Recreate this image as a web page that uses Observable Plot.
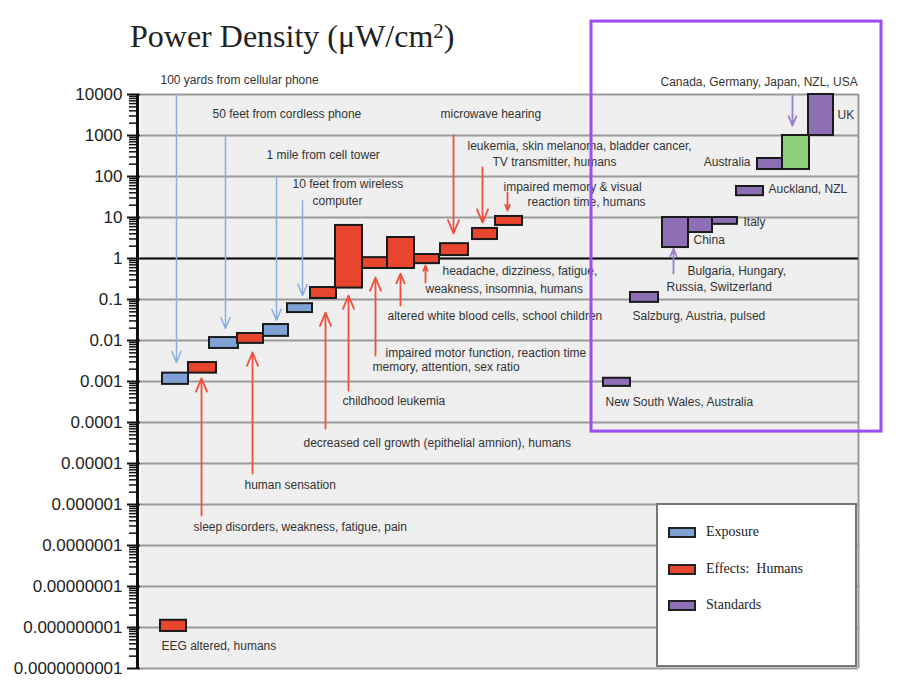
<!DOCTYPE html>
<html><head><meta charset="utf-8">
<script src="https://cdn.jsdelivr.net/npm/d3@7"></script>
<script src="https://cdn.jsdelivr.net/npm/@observablehq/plot@0.6"></script>
<style>
body{margin:0;background:#fff;}
#wrap{position:relative;width:900px;height:686px;overflow:hidden;}
#title{position:absolute;left:130px;top:20px;font-family:"Liberation Serif","DejaVu Serif",serif;font-size:32px;line-height:32px;color:#222;white-space:nowrap;}
#title .sup{position:relative;top:-0.45em;font-size:0.65em;}
#legend{position:absolute;left:656px;top:503px;width:197px;height:160px;background:#fff;border:2px solid #777;font-family:"Liberation Serif","DejaVu Serif",serif;font-size:14px;color:#222;}
#legend .item{position:absolute;left:10px;height:20px;display:flex;align-items:center;}
#legend .sw{width:24px;height:7px;border:2px solid #222;margin-right:10px;}
</style></head>
<body>
<div id="wrap">
  <div id="chart"></div>
  <div id="title">Power Density (μW/cm<span class="sup">2</span>)</div>
  <div id="legend"></div>
</div>
<script>
// ---- axis ----
const yTicks = [1e4, 1e3, 1e2, 1e1, 1, 1e-1, 1e-2, 1e-3, 1e-4, 1e-5, 1e-6, 1e-7, 1e-8, 1e-9, 1e-10];
const yTickLabels = ["10000", "1000", "100", "10", "1", "0.1", "0.01", "0.001", "0.0001", "0.00001", "0.000001", "0.0000001", "0.00000001", "0.000000001", "0.0000000001"];

// ---- bars: horizontal position (x1,x2), power density range (y1,y2) ----
const exposureBars = [
  {x1: 22, x2: 48, y1: 0.00085, y2: 0.0016},
  {x1: 69, x2: 98, y1: 0.0064, y2: 0.0118},
  {x1: 123, x2: 148, y1: 0.0126, y2: 0.0245},
  {x1: 147, x2: 172, y1: 0.048, y2: 0.079}
];
const effectBars = [
  {x1: 20, x2: 46, y1: 8e-10, y2: 1.5e-9},
  {x1: 48, x2: 76, y1: 0.0016, y2: 0.0029},
  {x1: 97, x2: 123, y1: 0.0085, y2: 0.0148},
  {x1: 170, x2: 196, y1: 0.106, y2: 0.196},
  {x1: 195, x2: 222, y1: 0.19, y2: 6.4},
  {x1: 222, x2: 247, y1: 0.57, y2: 1.05},
  {x1: 247, x2: 274, y1: 0.57, y2: 3.25},
  {x1: 274, x2: 299, y1: 0.75, y2: 1.25},
  {x1: 300, x2: 328, y1: 1.18, y2: 2.3},
  {x1: 332, x2: 357, y1: 2.9, y2: 5.4},
  {x1: 355, x2: 382, y1: 6.4, y2: 10.6}
];
const standardBars = [
  {x1: 463, x2: 490, y1: 0.00076, y2: 0.0012},
  {x1: 490, x2: 518, y1: 0.085, y2: 0.148},
  {x1: 522, x2: 548, y1: 1.85, y2: 10},
  {x1: 548, x2: 572, y1: 4.3, y2: 10},
  {x1: 572, x2: 597, y1: 6.8, y2: 10},
  {x1: 596, x2: 623, y1: 34, y2: 57},
  {x1: 617, x2: 642, y1: 148, y2: 275},
  {x1: 668, x2: 693, y1: 1000, y2: 10000}
];
const greenBars = [
  {x1: 642, x2: 669, y1: 148, y2: 1000}
];

// ---- arrows ----
const exposureArrows = [
  {x: 36, y1: 1e4, y2: 0.0029},
  {x: 85, y1: 1000, y2: 0.0196},
  {x: 136, y1: 95, y2: 0.031},
  {x: 162, y1: 26, y2: 0.125}
];
const effectArrows = [
  {x: 61, y1: 5.4e-7, y2: 0.0012},
  {x: 112, y1: 5.7e-6, y2: 0.0051},
  {x: 185, y1: 7.1e-5, y2: 0.048},
  {x: 208, y1: 6e-4, y2: 0.125},
  {x: 235, y1: 0.0043, y2: 0.344},
  {x: 260, y1: 0.0714, y2: 0.43},
  {x: 285, y1: 0.26, y2: 0.675},
  {x: 313, y1: 1000, y2: 4.07},
  {x: 342, y1: 166, y2: 7.5},
  {x: 367, y1: 41, y2: 14.8}
];
const standardArrows = [
  {x: 652, y1: 9450, y2: 1750},
  {x: 533, y1: 0.43, y2: 1.75}
];

// ---- labels (left-aligned) ----
const labels = [
  {x: 20, y: 21900, text: "100 yards from cellular phone"},
  {x: 72, y: 3250, text: "50 feet from cordless phone"},
  {x: 126, y: 325, text: "1 mile from cell tower"},
  {x: 152, y: 64, text: "10 feet from wireless"},
  {x: 172, y: 24.6, text: "computer"},
  {x: 300, y: 3250, text: "microwave hearing"},
  {x: 327, y: 540, text: "leukemia, skin melanoma, bladder cancer,"},
  {x: 352, y: 219, text: "TV transmitter, humans"},
  {x: 363, y: 54, text: "impaired memory & visual"},
  {x: 387, y: 23.2, text: "reaction time, humans"},
  {x: 302, y: 0.48, text: "headache, dizziness, fatigue,"},
  {x: 285, y: 0.175, text: "weakness, insomnia, humans"},
  {x: 247, y: 0.0385, text: "altered white blood cells, school children"},
  {x: 245, y: 0.0048, text: "impaired motor function, reaction time"},
  {x: 232, y: 0.0022, text: "memory, attention, sex ratio"},
  {x: 202, y: 3.25e-4, text: "childhood leukemia"},
  {x: 163, y: 3.08e-5, text: "decreased cell growth (epithelial amnion), humans"},
  {x: 104, y: 2.9e-6, text: "human sensation"},
  {x: 53, y: 2.75e-7, text: "sleep disorders, weakness, fatigue, pain"},
  {x: 21, y: 3.6e-10, text: "EEG altered, humans"},
  {x: 520, y: 19600, text: "Canada, Germany, Japan, NZL, USA"},
  {x: 697, y: 3080, text: "UK"},
  {x: 628, y: 48, text: "Auckland, NZL"},
  {x: 603, y: 7.5, text: "Italy"},
  {x: 553, y: 2.75, text: "China"},
  {x: 547, y: 0.48, text: "Bulgaria, Hungary,"},
  {x: 526, y: 0.196, text: "Russia, Switzerland"},
  {x: 492, y: 0.0385, text: "Salzburg, Austria, pulsed"},
  {x: 465, y: 3.08e-4, text: "New South Wales, Australia"}
];
// ---- labels (right-aligned) ----
const labelsRight = [
  {x: 610, y: 219, text: "Australia"}
];

const highlight = [{x1: 451, x2: 741, y1: 6e-5, y2: 6e5}];

const legendLabels = ["Exposure", "Effects:  Humans", "Standards"];
const legendColors = ["#7ea2d4", "#e8452f", "#8e6fb6"];

// ---- minor ticks for log axis ----
const minorTicks = [];
for (let k = -10; k < 4; k++) for (let m = 2; m <= 9; m++) minorTicks.push(m * Math.pow(10, k));

const font = "'Liberation Sans', Arial, sans-serif";
const chart = Plot.plot({
  width: 900,
  height: 686,
  marginLeft: 140,
  marginRight: 42,
  marginTop: 94,
  marginBottom: 18,
  style: {fontFamily: font, background: "transparent"},
  x: {domain: [0, 718], axis: null},
  y: {type: "log", domain: [1e-10, 1e4]},
  marks: [
    Plot.frame({fill: "#efefef", stroke: null}),
    Plot.ruleY(yTicks, {stroke: "#9a9a9a", strokeWidth: 2}),
    Plot.ruleX([718], {stroke: "#9a9a9a", strokeWidth: 2}),
    Plot.ruleY([1], {stroke: "#111", strokeWidth: 2}),
    Plot.arrow(exposureArrows, {x: "x", y1: "y1", y2: "y2", stroke: "#8aaee0", strokeWidth: 1.5, headLength: 12, headAngle: 45}),
    Plot.arrow(effectArrows, {x: "x", y1: "y1", y2: "y2", stroke: "#f0503c", strokeWidth: 1.8, headLength: 12, headAngle: 45}),
    Plot.arrow(standardArrows, {x: "x", y1: "y1", y2: "y2", stroke: "#9a7fcc", strokeWidth: 1.8, headLength: 12, headAngle: 45}),
    Plot.rect(exposureBars, {x1: "x1", x2: "x2", y1: "y1", y2: "y2", fill: legendColors[0], stroke: "#1a1a1a", strokeWidth: 2}),
    Plot.rect(effectBars, {x1: "x1", x2: "x2", y1: "y1", y2: "y2", fill: legendColors[1], stroke: "#1a1a1a", strokeWidth: 2}),
    Plot.rect(standardBars, {x1: "x1", x2: "x2", y1: "y1", y2: "y2", fill: legendColors[2], stroke: "#1a1a1a", strokeWidth: 2}),
    Plot.rect(greenBars, {x1: "x1", x2: "x2", y1: "y1", y2: "y2", fill: "#8fd07a", stroke: "#1a1a1a", strokeWidth: 2}),
    Plot.text(labels, {x: "x", y: "y", text: "text", textAnchor: "start", lineAnchor: "middle", fontSize: 12, fill: "#333"}),
    Plot.text(labelsRight, {x: "x", y: "y", text: "text", textAnchor: "end", lineAnchor: "middle", fontSize: 12, fill: "#333"}),
    Plot.tickY(minorTicks, {y: d => d, frameAnchor: "left", dx: -1, insetLeft: 0, stroke: "#111", strokeWidth: 1.5, render: (index, scales, values, dimensions, context, next) => {
      const g = next(index, scales, values, dimensions, context);
      d3.select(g).selectAll("line").attr("x1", dimensions.marginLeft - 10).attr("x2", dimensions.marginLeft - 1);
      return g;
    }}),
    Plot.axisY({ticks: yTicks, tickSize: 13, tickPadding: 5, tickFormat: d => yTickLabels[yTicks.indexOf(d)], fontSize: 17, fill: "#222", stroke: "#111", strokeWidth: 2}),
    Plot.ruleX([0], {stroke: "#111", strokeWidth: 3, dx: -3}),
    Plot.rect(highlight, {x1: "x1", x2: "x2", y1: "y1", y2: "y2", fill: "none", stroke: "#9a4df0", strokeWidth: 3})
  ]
});
document.getElementById("chart").appendChild(chart);

const leg = document.getElementById("legend");
const legendTops = [17, 54, 90];
legendLabels.forEach((lab, i) => {
  const it = document.createElement("div");
  it.className = "item";
  it.style.top = legendTops[i] + "px";
  const sw = document.createElement("div");
  sw.className = "sw";
  sw.style.background = legendColors[i];
  const tx = document.createElement("span");
  tx.textContent = lab;
  tx.style.whiteSpace = "pre";
  it.appendChild(sw); it.appendChild(tx);
  leg.appendChild(it);
});
</script>
</body></html>
